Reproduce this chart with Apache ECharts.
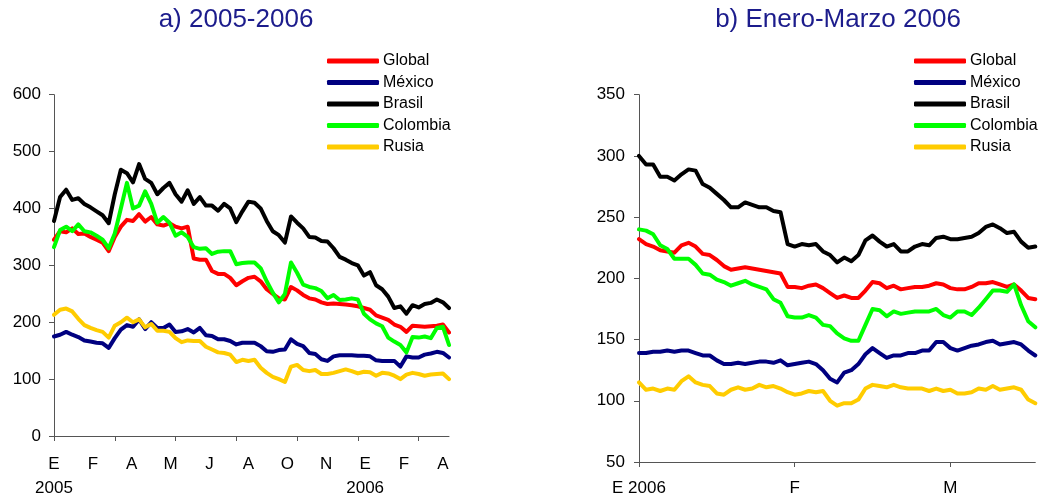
<!DOCTYPE html>
<html>
<head>
<meta charset="utf-8">
<script src="https://cdn.jsdelivr.net/npm/echarts@6/dist/echarts.min.js"></script>
<style>
  html, body { margin: 0; padding: 0; background: #ffffff; }
  #chart { width: 1039px; height: 500px; }
</style>
</head>
<body>
<div id="chart"></div>
<script>
// Series shared by both panels
const seriesNames  = ['Global', 'México', 'Brasil', 'Colombia', 'Rusia'];
const seriesColors = ['#ff0000', '#000080', '#000000', '#00ff00', '#ffcc00'];

// Panel a) 2005-2006: one reading every 5 trading days
const dayStepA = 5;
const globalA   = [345,360,358,365,355,356,350,345,340,325, 350,368,380,378,390,377,385,372,370,374, 368,365,368,312,310,310,290,285,285,278, 265,272,278,280,272,258,250,242,240,262, 256,248,242,240,235,232,233,232,231,230, 228,225,222,212,208,204,196,192,183,194, 193,192,193,194,196,182];
const mexicoA   = [175,178,183,178,174,168,166,164,163,155, 172,187,195,192,205,188,200,190,190,196, 183,184,188,182,190,177,176,170,170,167, 161,164,164,164,158,149,148,151,152,170, 162,158,146,144,135,132,140,142,142,142, 141,141,140,133,132,132,132,122,140,138, 138,143,145,148,146,138];
const brasilA   = [378,420,433,415,418,408,402,395,388,374, 425,468,462,446,478,452,445,425,436,445, 425,412,432,408,420,405,405,396,408,400, 376,395,412,410,400,378,360,353,340,386, 375,365,350,349,343,342,330,315,310,304, 300,282,288,265,258,245,225,228,215,230, 226,232,234,240,235,225];
const colombiaA = [332,362,368,360,372,360,358,352,345,330, 356,400,445,400,405,430,408,375,385,375, 352,358,350,332,329,330,320,324,325,325, 302,304,305,305,295,272,252,235,250,305, 287,266,262,260,255,242,248,239,240,242, 240,215,205,198,193,173,166,160,147,174, 173,175,172,190,192,160];
const rusiaA    = [213,222,224,219,206,195,190,186,183,173, 194,200,208,200,205,191,197,185,185,183, 172,165,168,167,167,157,152,147,146,143, 130,134,132,134,120,111,104,100,95,122, 125,116,114,116,109,109,111,114,117,114, 110,113,112,106,111,110,106,100,108,111, 109,106,108,109,110,100];
const monthLabelsA = ['E\n2005', 'F', 'A', 'M', 'J', 'A', 'O', 'N', 'E\n2006', 'F', 'A'];
const labelStepA = 32;   // trading days between month labels
const tickStepA  = 50;   // trading days between tick marks

// Panel b) Enero-Marzo 2006: daily readings
const globalB   = [232,228,226,223,222,221,227,229,226,220, 219,215,210,207,208,209,208,207,206,205, 204,193,193,192,194,195,192,188,184,186, 184,184,190,197,196,192,194,191,192,193, 193,194,196,195,192,191,191,193,196,196, 197,195,193,195,190,184,183];
const mexicoB   = [139,139,140,140,141,140,141,141,139,137, 137,133,130,130,131,130,131,132,132,131, 133,129,130,131,132,130,125,118,115,123, 125,130,138,143,139,135,137,137,139,139, 141,141,148,148,143,141,143,145,146,148, 149,146,147,148,146,141,137];
const brasilB   = [300,293,293,283,283,280,285,289,288,277, 274,269,264,258,258,262,260,258,258,255, 254,228,226,228,227,228,222,219,213,217, 214,219,231,235,230,226,228,222,222,226, 228,227,233,234,232,232,233,234,237,242, 244,241,237,238,230,225,226];
const colombiaB = [240,239,236,227,224,216,216,216,211,204, 203,199,197,194,196,198,195,193,191,183, 180,169,168,168,170,168,162,161,155,151, 149,149,162,175,174,169,173,171,172,173, 173,173,175,170,168,173,173,170,176,183, 190,190,189,195,178,165,160];
const rusiaB    = [115,109,110,108,110,109,116,120,115,113, 112,106,105,109,111,109,110,113,111,112, 110,107,105,106,108,107,108,100,96,98, 98,101,110,113,112,111,113,111,110,110, 110,108,110,108,109,106,106,107,110,109, 112,109,110,111,109,101,98];
const monthLabelsB = ['E 2006', 'F', 'M'];
const tickStepB = 22;    // trading days per month tick

const panelA = [globalA, mexicoA, brasilA, colombiaA, rusiaA];
const panelB = [globalB, mexicoB, brasilB, colombiaB, rusiaB];

const FONT = "'Liberation Sans', Arial, sans-serif";
const AXIS_COLOR = '#555555';
const TITLE_COLOR = '#1c1c8c';

const lastDayA = (globalA.length - 1) * dayStepA;
const tickValuesA = [];
for (let d = 0; d <= lastDayA; d += tickStepA) tickValuesA.push(d);
const labelValuesA = monthLabelsA.map((_, k) => k * labelStepA);
const categoriesB = globalB.map((_, i) => String(i));

function lineSeries(name, color, data, axisIndex) {
  return {
    name, type: 'line', data,
    xAxisIndex: axisIndex, yAxisIndex: axisIndex,
    showSymbol: false, symbol: 'none', smooth: false,
    lineStyle: { color, width: 4, join: 'round', cap: 'round' },
    itemStyle: { color },
    emphasis: { disabled: true },
    z: 2
  };
}

const series = [];
seriesNames.forEach((name, s) => {
  series.push(lineSeries(name, seriesColors[s], panelA[s].map((v, i) => [i * dayStepA, v]), 0));
});
seriesNames.forEach((name, s) => {
  series.push(lineSeries(name, seriesColors[s], panelB[s], 1));
});

const legendBase = {
  data: seriesNames,
  orient: 'vertical',
  top: 48,
  itemWidth: 52,
  itemHeight: 5,
  itemGap: 5.5,
  icon: 'roundRect',
  selectedMode: false,
  textStyle: { fontSize: 16, fontFamily: FONT, color: '#000000', padding: [0, 0, 0, -1] }
};

const axisLine = { show: true, lineStyle: { color: AXIS_COLOR, width: 1 } };
const axisTick = { show: true, length: 5, lineStyle: { color: AXIS_COLOR, width: 1 } };

const option = {
  animation: false,
  backgroundColor: '#ffffff',
  graphic: [
    { type: 'text', x: 236, y: 20, style: { text: 'a) 2005-2006', fill: TITLE_COLOR, font: '26px ' + FONT, textAlign: 'center', textVerticalAlign: 'middle' } },
    { type: 'text', x: 838, y: 20, style: { text: 'b) Enero-Marzo 2006', fill: TITLE_COLOR, font: '26px ' + FONT, textAlign: 'center', textVerticalAlign: 'middle' } }
  ],
  legend: [
    Object.assign({}, legendBase, { left: 322 }),
    Object.assign({}, legendBase, { left: 909 })
  ],
  grid: [
    { left: 54, top: 94.7, width: 395, height: 344.3, containLabel: false },
    { left: 639, top: 94.7, width: 396.3, height: 371, containLabel: false }
  ],
  xAxis: [
    {
      type: 'value', gridIndex: 0, min: 0, max: lastDayA,
      axisLine, splitLine: { show: false },
      axisTick: Object.assign({}, axisTick, { customValues: tickValuesA }),
      axisLabel: {
        customValues: labelValuesA,
        formatter: v => monthLabelsA[Math.round(v / labelStepA)] || '',
        fontSize: 17, fontFamily: FONT, color: '#000000', lineHeight: 24, margin: 16
      }
    },
    {
      type: 'category', gridIndex: 1, data: categoriesB, boundaryGap: false,
      axisLine, splitLine: { show: false },
      axisTick: Object.assign({}, axisTick, { interval: tickStepB - 1 }),
      axisLabel: {
        interval: tickStepB - 1,
        formatter: (v, idx) => (idx % tickStepB === 0 ? (monthLabelsB[idx / tickStepB] || '') : ''),
        fontSize: 17, fontFamily: FONT, color: '#000000', lineHeight: 24, margin: 14
      }
    }
  ],
  yAxis: [
    {
      type: 'value', gridIndex: 0, min: 0, max: 600, interval: 100,
      axisLine, axisTick, splitLine: { show: false },
      axisLabel: { fontSize: 17, fontFamily: FONT, color: '#000000', margin: 13 }
    },
    {
      type: 'value', gridIndex: 1, min: 50, max: 350, interval: 50,
      axisLine, axisTick, splitLine: { show: false },
      axisLabel: { fontSize: 17, fontFamily: FONT, color: '#000000', margin: 14 }
    }
  ],
  series
};

const chart = echarts.init(document.getElementById('chart'), null, { renderer: 'canvas' });
chart.setOption(option);
</script>
</body>
</html>
